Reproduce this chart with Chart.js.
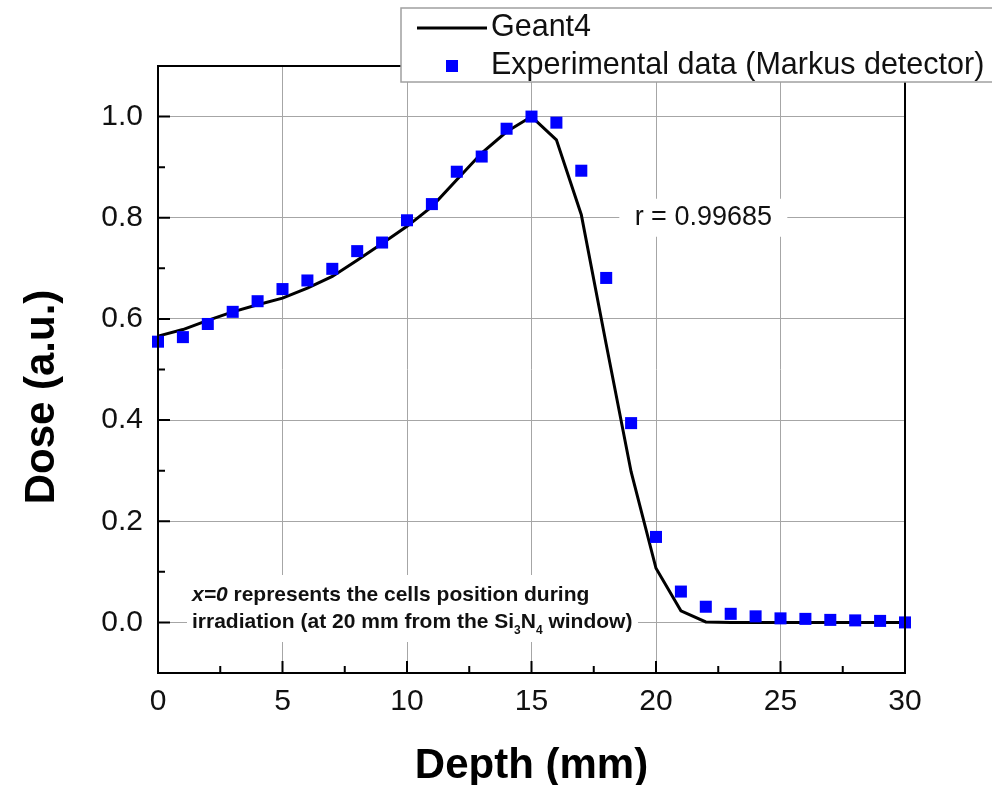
<!DOCTYPE html>
<html lang="en">
<head>
<meta charset="UTF-8" />
<title>Geant4 vs Markus detector depth dose</title>
<script src="https://cdn.jsdelivr.net/npm/chart.js"></script>
<style>
  html, body { margin: 0; padding: 0; background: #fff; }
  #wrap { width: 992px; height: 785px; }
</style>
</head>
<body>
<div id="wrap"><canvas id="doseChart" width="992" height="785"></canvas></div>
<script>
  // depth in mm, dose normalised to the peak
  const depth = [0, 1, 2, 3, 4, 5, 6, 7, 8, 9, 10, 11, 12, 13, 14, 15, 16, 17, 18, 19, 20, 21, 22, 23, 24, 25, 26, 27, 28, 29, 30];
  const geant4 = [0.566, 0.579, 0.597, 0.614, 0.628, 0.641, 0.661, 0.684, 0.716, 0.749, 0.783, 0.822, 0.875, 0.928, 0.970, 1.0,
                  0.954, 0.806, 0.55, 0.298, 0.107, 0.023, 0.001, 0, 0, 0, 0, 0, 0, 0, 0];
  const markus = [0.555, 0.564, 0.590, 0.614, 0.635, 0.659, 0.676, 0.699, 0.734, 0.751, 0.795, 0.827, 0.891, 0.921, 0.976, 1.0,
                  0.988, 0.893, 0.681, 0.394, 0.169, 0.061, 0.031, 0.017, 0.012, 0.008, 0.007, 0.005, 0.004, 0.003, 0.0];

  const xTicks = [0, 5, 10, 15, 20, 25, 30];
  const xMinorTicks = [2.5, 7.5, 12.5, 17.5, 22.5, 27.5];
  const yTicks = [0.0, 0.2, 0.4, 0.6, 0.8, 1.0];
  const yMinorTicks = [-0.1, 0.1, 0.3, 0.5, 0.7, 0.9, 1.1];

  const FONT = "'Liberation Sans', Arial, sans-serif";
  const gridColor = '#a6a6a6';

  // box, inward ticks, annotations, axis titles and legend
  const decorations = {
    id: 'decorations',
    beforeDatasetsDraw(chart) {
      const ctx = chart.ctx;
      const x = chart.scales.x, y = chart.scales.y;
      ctx.save();

      // r label with white background
      const rx = x.getPixelForValue(21.9), ry = y.getPixelForValue(0.8);
      ctx.fillStyle = '#fff';
      ctx.fillRect(rx - 84, ry - 19, 168, 38);
      ctx.fillStyle = '#111';
      ctx.font = '27px ' + FONT;
      ctx.textAlign = 'center';
      ctx.textBaseline = 'middle';
      ctx.fillText('r = 0.99685', rx, ry);

      // note about x=0
      ctx.fillStyle = '#fff';
      ctx.fillRect(187, 575, 451, 67);
      ctx.fillStyle = '#111';
      ctx.textAlign = 'left';
      ctx.textBaseline = 'middle';
      let tx = 192;
      const l1 = 595, l2 = y.getPixelForValue(0);
      ctx.font = 'italic bold 21px ' + FONT;
      ctx.fillText('x=0', tx, l1);
      tx += ctx.measureText('x=0').width;
      ctx.font = 'bold 21px ' + FONT;
      ctx.fillText(' represents the cells position during', tx, l1);

      tx = 192;
      const parts = [['irradiation (at 20 mm from the Si', 0], ['3', 1], ['N', 0], ['4', 1], [' window)', 0]];
      parts.forEach(([s, sub]) => {
        ctx.font = sub ? 'bold 12px ' + FONT : 'bold 21px ' + FONT;
        ctx.fillText(s, tx, sub ? l2 + 8 : l2);
        tx += ctx.measureText(s).width;
      });
      ctx.restore();
    },
    afterDatasetsDraw(chart) {
      const ctx = chart.ctx;
      const a = chart.chartArea;
      const x = chart.scales.x, y = chart.scales.y;
      ctx.save();
      ctx.strokeStyle = '#000';
      ctx.lineWidth = 2;
      ctx.strokeRect(a.left, a.top, a.right - a.left, a.bottom - a.top);

      ctx.beginPath();
      xTicks.forEach(v => { const p = x.getPixelForValue(v); ctx.moveTo(p, a.bottom); ctx.lineTo(p, a.bottom - 12); });
      xMinorTicks.forEach(v => { const p = x.getPixelForValue(v); ctx.moveTo(p, a.bottom); ctx.lineTo(p, a.bottom - 7); });
      yTicks.forEach(v => { const p = y.getPixelForValue(v); ctx.moveTo(a.left, p); ctx.lineTo(a.left + 12, p); });
      yMinorTicks.forEach(v => { const p = y.getPixelForValue(v); ctx.moveTo(a.left, p); ctx.lineTo(a.left + 7, p); });
      ctx.stroke();

      // axis titles
      ctx.fillStyle = '#000';
      ctx.font = 'bold 42px ' + FONT;
      ctx.textAlign = 'center';
      ctx.textBaseline = 'middle';
      ctx.fillText('Depth (mm)', (a.left + a.right) / 2, 766);
      ctx.translate(42, 397);
      ctx.rotate(-Math.PI / 2);
      ctx.fillText('Dose (a.u.)', 0, 0);
      ctx.restore();
    },
    afterDraw(chart) {
      const ctx = chart.ctx;
      ctx.save();
      ctx.fillStyle = '#fff';
      ctx.fillRect(401, 8, 620, 74);
      ctx.strokeStyle = '#a0a0a0';
      ctx.lineWidth = 1.5;
      ctx.strokeRect(401, 8, 620, 74);

      ctx.strokeStyle = '#000';
      ctx.lineWidth = 3;
      ctx.beginPath();
      ctx.moveTo(417, 28);
      ctx.lineTo(487, 28);
      ctx.stroke();
      ctx.fillStyle = '#0000ff';
      ctx.fillRect(446, 60, 12, 12);

      ctx.fillStyle = '#111';
      ctx.font = '30.5px ' + FONT;
      ctx.textAlign = 'left';
      ctx.textBaseline = 'middle';
      ctx.fillText(chart.data.datasets[0].label, 491, 28);
      ctx.fillText(chart.data.datasets[1].label, 491, 66);
      ctx.restore();
    }
  };

  new Chart(document.getElementById('doseChart'), {
    type: 'scatter',
    data: {
      datasets: [
        {
          label: 'Geant4',
          data: depth.map((d, i) => ({ x: d, y: geant4[i] })),
          showLine: true,
          borderColor: '#000',
          borderWidth: 3,
          pointRadius: 0,
          tension: 0,
          clip: false,
          order: 2
        },
        {
          label: 'Experimental data (Markus detector)',
          data: depth.map((d, i) => ({ x: d, y: markus[i] })),
          pointStyle: 'rect',
          pointRadius: 8.5,
          pointBorderWidth: 0,
          backgroundColor: '#0000ff',
          borderColor: '#0000ff',
          clip: false,
          order: 1
        }
      ]
    },
    options: {
      responsive: false,
      devicePixelRatio: 1,
      animation: false,
      layout: { padding: { top: 66, right: 87, left: 0, bottom: 0 } },
      plugins: {
        legend: { display: false },
        tooltip: { enabled: false }
      },
      scales: {
        x: {
          type: 'linear',
          min: 0,
          max: 30,
          afterBuildTicks: s => { s.ticks = xTicks.map(v => ({ value: v })); },
          afterFit: s => { s.height = 112; },
          ticks: {
            color: '#111',
            font: { family: FONT, size: 30 },
            padding: 11,
            maxRotation: 0,
            callback: v => String(v)
          },
          grid: { color: gridColor, lineWidth: 1, drawTicks: false },
          border: { display: false }
        },
        y: {
          type: 'linear',
          min: -0.1,
          max: 1.1,
          afterBuildTicks: s => { s.ticks = yTicks.map(v => ({ value: v })); },
          afterFit: s => { s.width = 158; },
          ticks: {
            color: '#111',
            font: { family: FONT, size: 30 },
            padding: 15,
            callback: v => Number(v).toFixed(1)
          },
          grid: { color: gridColor, lineWidth: 1, drawTicks: false },
          border: { display: false }
        }
      }
    },
    plugins: [decorations]
  });
</script>
</body>
</html>
